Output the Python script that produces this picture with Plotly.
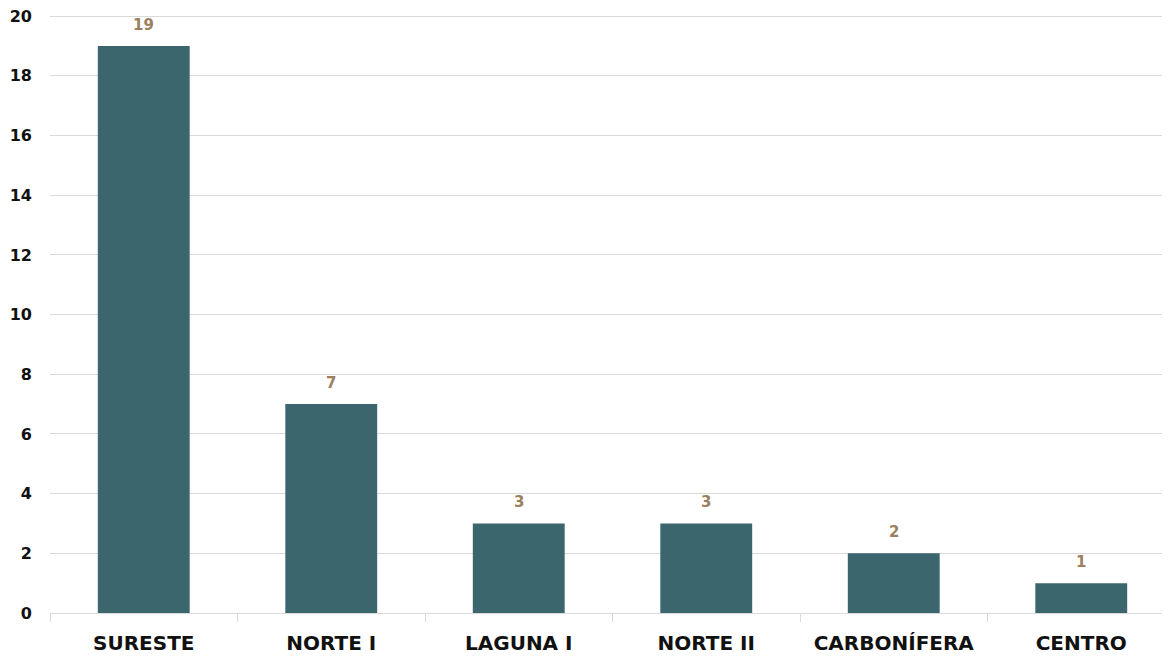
import plotly.graph_objects as go

categories = ["SURESTE", "NORTE I", "LAGUNA I", "NORTE II", "CARBONÍFERA", "CENTRO"]
values = [19, 7, 3, 3, 2, 1]
y_ticks = [0, 2, 4, 6, 8, 10, 12, 14, 16, 18, 20]

bar_color = "#3B666E"
label_color = "#9C7F5E"
grid_color = "#D9D9D9"
font_family = "DejaVu Sans"

fig = go.Figure()
fig.add_trace(go.Bar(
    x=categories, y=values, width=0.49,
    marker=dict(color=bar_color, line=dict(width=0)),
    hoverinfo="skip",
))

for c, v in zip(categories, values):
    fig.add_annotation(
        x=c, y=v, text=f"<b>{v}</b>", showarrow=False,
        yanchor="middle", yshift=21,
        font=dict(family=font_family, size=15, color=label_color),
    )

# page body has an 8px margin, so the figure is offset by 8px in the window
fig.update_layout(
    width=1170, height=656,
    margin=dict(l=42, r=3, t=7, b=51),
    plot_bgcolor="white", paper_bgcolor="white",
    showlegend=False,
)
fig.update_xaxes(
    range=[-0.5, 5.5],
    automargin=False,
    showline=True, linecolor=grid_color, linewidth=1,
    ticks="outside", tickson="boundaries", ticklen=8, tickcolor=grid_color,
    tickfont=dict(family=font_family, size=20, color="#111111", weight="bold"),
    showgrid=False,
    ticklabelstandoff=12,
)
fig.update_yaxes(
    range=[0, 20.04], tickvals=y_ticks,
    automargin=False,
    ticklabeloverflow="allow",
    showgrid=True, gridcolor=grid_color, gridwidth=1,
    zeroline=False, showline=False,
    tickfont=dict(family=font_family, size=16, color="#111111", weight="bold"),
    ticklabelstandoff=17,
)

fig.write_html("out.html")
